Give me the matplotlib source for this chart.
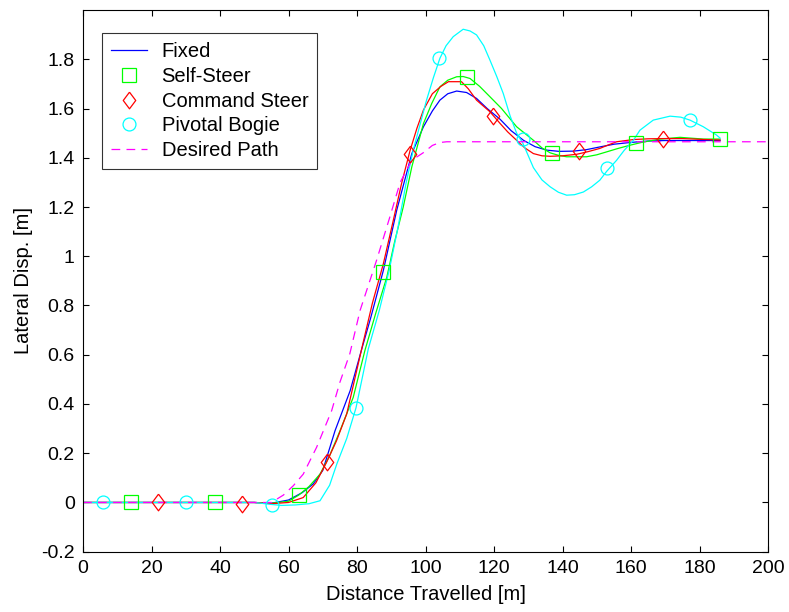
import numpy as np
import matplotlib
matplotlib.use("Agg")
import matplotlib.pyplot as plt
from matplotlib.lines import Line2D

plt.rcParams["font.family"] = ["Liberation Sans", "DejaVu Sans"]

# Fixed
fixed_x = [0, 50, 55, 60, 64, 67.2, 70, 73.6, 78.0, 81.4, 84, 87.7, 91.6, 96.0, 99.4, 102, 104.2,
           106.5, 109.1, 112, 114.9, 118, 121.8, 125, 128.6, 132, 135.4, 139, 143.2, 147, 150.9,
           155, 159.7, 165, 170, 175, 180, 186]
fixed_y = [0, 0, -0.003, 0.01, 0.04, 0.075, 0.13, 0.292, 0.454, 0.624, 0.75, 0.943, 1.187, 1.417,
           1.526, 1.59, 1.634, 1.66, 1.671, 1.665, 1.641, 1.6, 1.556, 1.51, 1.471, 1.445, 1.431,
           1.426, 1.427, 1.433, 1.444, 1.455, 1.462, 1.468, 1.47, 1.47, 1.47, 1.47]

# Self-Steer
self_x = [0, 50, 55, 60, 63, 66, 69.2, 72, 75, 78.9, 82.3, 85.5, 88.7, 91, 93.5, 96, 99.4, 101.8,
          104.2, 106.5, 109.1, 111, 113, 115.8, 118.8, 122.2, 126.6, 131.5, 134, 136.4, 138.8,
          141.2, 147, 150, 152.9, 156, 159.7, 163, 168, 174.3, 181.1, 186]
self_y = [0, 0, -0.003, 0.005, 0.03, 0.065, 0.115, 0.19, 0.29, 0.427, 0.617, 0.77, 0.915, 1.06,
          1.2, 1.363, 1.539, 1.62, 1.688, 1.715, 1.729, 1.73, 1.722, 1.69, 1.648, 1.6, 1.526,
          1.471, 1.44, 1.42, 1.41, 1.404, 1.404, 1.412, 1.424, 1.437, 1.451, 1.462, 1.475, 1.483,
          1.476, 1.476]
self_mx = [14.0, 38.5, 63.0, 87.5, 112.0, 136.8, 161.5, 186.0]
self_my = [0, 0, 0.031, 0.936, 1.729, 1.42, 1.458, 1.478]

# Command Steer
cmd_x = [0, 50, 55, 60, 64.3, 68, 71.1, 74, 77, 81.8, 84.5, 87.7, 90.5, 93, 95.5, 97.5, 99.4, 102,
         104.5, 106.7, 110.5, 112.5, 114.9, 118.8, 121.8, 124, 126.6, 129, 131.5, 134, 136.4, 140,
         144.1, 147.5, 150.9, 153, 155.8, 160.7, 165, 170, 175, 180, 186]
cmd_y = [0, 0, -0.005, 0.0, 0.02, 0.08, 0.163, 0.25, 0.36, 0.65, 0.81, 0.97, 1.14, 1.295, 1.43,
         1.52, 1.594, 1.66, 1.69, 1.709, 1.709, 1.68, 1.634, 1.587, 1.539, 1.505, 1.471, 1.44,
         1.417, 1.408, 1.406, 1.408, 1.414, 1.425, 1.438, 1.45, 1.465, 1.474, 1.477, 1.478, 1.478,
         1.475, 1.472]
cmd_mx = [22.0, 46.5, 71.1, 95.5, 119.8, 144.8, 169.2]
cmd_my = [0, -0.007, 0.163, 1.417, 1.569, 1.428, 1.478]

# Pivotal Bogie
piv_x = [0, 50, 55, 58, 62, 66, 69.2, 72, 74.1, 77, 79.7, 83.3, 86.5, 89.4, 92, 94.3, 96.4, 98.5,
         100.3, 102.3, 104.2, 106, 108.1, 111, 113, 114.9, 117, 118.8, 120.8, 122.7, 124.7, 126.6,
         128.4, 131.5, 134, 136.4, 138.8, 141.2, 143.5, 146.1, 148.5, 150.9, 152.9, 155.8, 158,
         160.7, 162.6, 166.5, 171.4, 174.5, 177.2, 181.1, 185, 186]
piv_y = [0, 0, -0.008, -0.012, -0.01, -0.005, 0.007, 0.07, 0.156, 0.26, 0.384, 0.624, 0.78, 0.943,
         1.12, 1.295, 1.43, 1.54, 1.634, 1.725, 1.804, 1.855, 1.892, 1.922, 1.915, 1.899, 1.855,
         1.797, 1.73, 1.661, 1.57, 1.5, 1.46, 1.36, 1.31, 1.282, 1.26, 1.248, 1.25, 1.261, 1.282,
         1.309, 1.345, 1.39, 1.43, 1.471, 1.512, 1.553, 1.569, 1.565, 1.553, 1.526, 1.492, 1.48]
piv_mx = [5.7, 30.1, 55.1, 79.7, 103.9, 128.4, 152.9, 177.2]
piv_my = [0, 0, -0.011, 0.384, 1.804, 1.478, 1.36, 1.553]

# Desired Path
des_x = [0, 55, 58.5, 61.4, 64.3, 68.2, 72.6, 75, 77.9, 80.9, 85.7, 89.6, 92.6, 96, 99.3, 102,
         104.2, 106.2, 200]
des_y = [0, 0, 0.03, 0.068, 0.115, 0.224, 0.373, 0.488, 0.604, 0.78, 0.983, 1.16, 1.3, 1.39,
         1.42, 1.45, 1.462, 1.465, 1.465]

xticks = [0, 20, 40, 60, 80, 100, 120, 140, 160, 180, 200]
yticks = [-0.2, 0, 0.2, 0.4, 0.6, 0.8, 1.0, 1.2, 1.4, 1.6, 1.8]
ytick_labels = ["-0.2", "0", "0.2", "0.4", "0.6", "0.8", "1", "1.2", "1.4", "1.6", "1.8"]

fig = plt.figure(figsize=(7.89, 6.12), dpi=100)
ax = fig.add_axes([0.1052, 0.0985, 0.8682, 0.8851])

# MATLAB-style diamond, a bit wider than matplotlib's thin one
diamond = [(0, 1), (0.75, 0), (0, -1), (-0.75, 0), (0, 1)]
dash = (0, (7, 5))

lw = 0.9
ax.plot(fixed_x, fixed_y, color="#0000ff", lw=lw)
ax.plot(self_x, self_y, color="#00ff00", lw=lw)
ax.plot(cmd_x, cmd_y, color="#ff0000", lw=lw)
ax.plot(piv_x, piv_y, color="#00ffff", lw=lw)
ax.plot(des_x, des_y, color="#ff00ff", lw=lw, linestyle=dash)

mk = dict(linestyle="none", markerfacecolor="none", markeredgewidth=0.9)
ax.plot(self_mx, self_my, marker="s", markersize=9.5, markeredgecolor="#00ff00", **mk)
ax.plot(cmd_mx, cmd_my, marker=diamond, markersize=12, markeredgecolor="#ff0000", **mk)
ax.plot(piv_mx, piv_my, marker="o", markersize=9.3, markeredgecolor="#00ffff", **mk)

ax.set_xlim(0, 200)
ax.set_ylim(-0.2, 2.0)
ax.set_xticks(xticks)
ax.set_yticks(yticks)
ax.set_yticklabels(ytick_labels)
ax.tick_params(direction="in", top=True, right=True, length=4, width=0.8, labelsize=14, pad=6)
for s in ax.spines.values():
    s.set_linewidth(0.8)

ax.set_xlabel("Distance Travelled [m]", fontsize=14.5, labelpad=6)
ax.set_ylabel("Lateral Disp. [m]", fontsize=14.5, labelpad=6)

handles = [
    Line2D([], [], color="#0000ff", lw=lw),
    Line2D([], [], marker="s", markersize=9.5, markeredgecolor="#00ff00", **mk),
    Line2D([], [], marker=diamond, markersize=12, markeredgecolor="#ff0000", **mk),
    Line2D([], [], marker="o", markersize=9.3, markeredgecolor="#00ffff", **mk),
    Line2D([], [], color="#ff00ff", lw=lw, linestyle=dash),
]
labels = ["Fixed", "Self-Steer", "Command Steer", "Pivotal Bogie", "Desired Path"]
leg = ax.legend(handles, labels, loc="upper left", bbox_to_anchor=(0.028, 0.957),
                fontsize=14.5, frameon=True, fancybox=False, edgecolor="black",
                borderaxespad=0, handlelength=1.8, labelspacing=0.28, borderpad=0.45,
                handletextpad=0.7)
leg.get_frame().set_linewidth(0.8)

fig.savefig("out.png", dpi=100)
